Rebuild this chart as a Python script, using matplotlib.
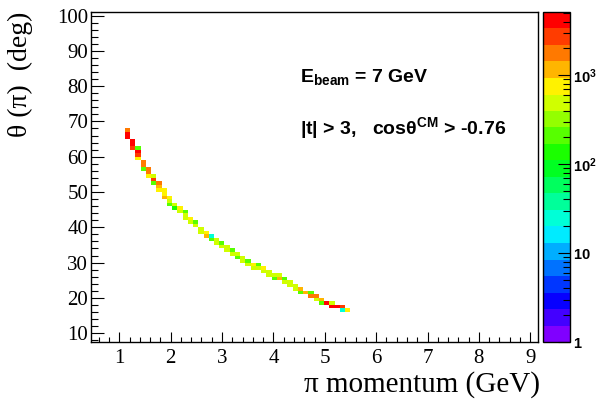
import numpy as np
import matplotlib
matplotlib.use("Agg")
import matplotlib.pyplot as plt
from matplotlib.colors import ListedColormap, LogNorm, hsv_to_rgb
from matplotlib.ticker import MultipleLocator, FixedLocator, NullFormatter, FixedFormatter

plt.rcParams['mathtext.fontset'] = 'custom'
plt.rcParams['mathtext.rm'] = 'Liberation Sans:bold'
plt.rcParams['mathtext.it'] = 'Liberation Sans:bold'
plt.rcParams['mathtext.bf'] = 'Liberation Sans:bold'

# ---------------- data ----------------
# momentum bin centre of each filled column (GeV)
p_col = [1.16, 1.26, 1.37, 1.47, 1.57, 1.67, 1.77, 1.88, 1.98, 2.08,
         2.18, 2.28, 2.39, 2.49, 2.59, 2.69, 2.79, 2.90, 3.00, 3.10,
         3.20, 3.30, 3.41, 3.51, 3.61, 3.71, 3.81, 3.92, 4.02, 4.12,
         4.22, 4.32, 4.43, 4.53, 4.63, 4.73, 4.83, 4.94, 5.04, 5.14,
         5.24, 5.34, 5.45]
# lowest filled theta bin (deg) in each column
theta_lo = [65, 62, 59, 56, 54, 52, 50, 48, 46, 45,
            44, 42, 41, 40, 38, 37, 36, 35, 34, 33,
            32, 31, 30, 29, 28, 28, 27, 26, 25, 25,
            24, 23, 22, 21, 21, 20, 19, 18, 18, 17,
            17, 16, 16]
# counts in consecutive theta bins, going upward from theta_lo
counts_col = [
    [4000, 4000, 1500], [3000, 4000, 4000], [800, 3000, 3500, 200],
    [200, 1800, 2000], [700, 1500, 1600], [200, 2500, 600],
    [700, 1300, 1500], [1100, 700, 800], [200, 600, 800], [150, 600],
    [600, 700], [500, 500, 180], [600, 700], [500, 200], [500, 600],
    [1200, 700], [200, 20], [400, 600], [600, 250], [400, 500],
    [600, 250], [250, 500], [500, 600], [500, 200], [400, 700],
    [500, 250], [600, 700], [400, 600], [200, 600], [1400, 500],
    [600, 200], [600, 500], [500, 600], [200, 1300], [1300],
    [1500, 200], [600, 1500], [200, 1300], [3500], [3500, 600],
    [4000], [20, 3000], [700],
]
x_ticks = [1, 2, 3, 4, 5, 6, 7, 8, 9]
y_ticks = [10, 20, 30, 40, 50, 60, 70, 80, 90, 100]
z_ticks = [1, 10, 100, 1000]
z_labels = [r'$\mathbf{1}$', r'$\mathbf{10}$', r'$\mathbf{10^{2}}$', r'$\mathbf{10^{3}}$']

# ---------------- histogram binning ----------------
p_edges = np.linspace(1.11, 1.11 + 0.102 * 43, 44)
theta_edges = np.arange(5, 102, 1.0)

cell_p, cell_t, cell_w = [], [], []
for p, t0, cs in zip(p_col, theta_lo, counts_col):
    for j, c in enumerate(cs):
        cell_p.append(p)
        cell_t.append(t0 + j + 0.5)
        cell_w.append(c)
H, xe, ye = np.histogram2d(cell_p, cell_t, bins=[p_edges, theta_edges], weights=cell_w)
H = np.ma.masked_where(H <= 0, H)

# ROOT-like 20-level rainbow palette
hues = np.linspace(0.75, 0.0, 20)
cols = hsv_to_rgb(np.stack([hues, np.ones(20), np.ones(20)], axis=1))
cmap = ListedColormap(cols)
zmax = 10 ** 3.71
norm = LogNorm(vmin=1, vmax=zmax)

# ---------------- figure ----------------
W, Hpx = 598, 407
fig = plt.figure(figsize=(W / 100, Hpx / 100), dpi=100)
ax = fig.add_axes([91 / W, 1 - 342 / Hpx, (538 - 91) / W, (342 - 12) / Hpx])
cax = fig.add_axes([543 / W, 1 - 342 / Hpx, (570 - 543) / W, (342 - 12) / Hpx])

mesh = ax.pcolormesh(xe, ye, H.T, cmap=cmap, norm=norm, shading='flat')
ax.set_xlim(0.45, 9.15)
ax.set_ylim(7.5, 101)

ax.xaxis.set_major_locator(FixedLocator(x_ticks))
ax.xaxis.set_minor_locator(MultipleLocator(0.2))
ax.yaxis.set_major_locator(FixedLocator(y_ticks))
ax.yaxis.set_minor_locator(MultipleLocator(2))
ax.tick_params(axis='both', which='both', direction='in', top=False, right=False,
               width=0.8, colors='black')
ax.tick_params(axis='x', which='major', length=7.5, pad=5)
ax.tick_params(axis='x', which='minor', length=3.8)
ax.tick_params(axis='y', which='major', length=9.5, pad=2)
ax.tick_params(axis='y', which='minor', length=4.7)
for lab in ax.get_xticklabels() + ax.get_yticklabels():
    lab.set_fontfamily('Liberation Serif')
    lab.set_fontsize(15)
for s in ax.spines.values():
    s.set_linewidth(1.0)

ax.text(0.4676, 0.788, r'$\mathrm{E_{beam}}$ = 7 GeV', transform=ax.transAxes,
        fontfamily='Liberation Sans', fontweight='bold', fontsize=14,
        ha='left', va='baseline')
ax.text(0.4676, 0.630, r'|t| > 3,   cosθ$^{\mathrm{CM}}$ > -0.76', transform=ax.transAxes,
        fontfamily='Liberation Sans', fontweight='bold', fontsize=14,
        ha='left', va='baseline')

fig.text(540 / W, 1 - 385 / Hpx, 'π momentum (GeV)', fontfamily='Liberation Serif',
         fontsize=21, ha='right', va='center')
fig.text(20 / W, 1 - 12 / Hpx, 'θ (π)  (deg)', fontfamily='Liberation Serif',
         fontsize=20, ha='center', va='top', rotation=90)

# colour bar
cb = fig.colorbar(mesh, cax=cax)
cb.outline.set_linewidth(1.0)
cax.yaxis.set_major_locator(FixedLocator(z_ticks))
cax.yaxis.set_major_formatter(FixedFormatter(z_labels))
minors = [m * 10 ** d for d in range(4) for m in range(2, 10) if m * 10 ** d < zmax]
cax.yaxis.set_minor_locator(FixedLocator(minors))
cax.yaxis.set_minor_formatter(NullFormatter())
cax.tick_params(axis='y', which='both', direction='in', right=True, left=False,
                labelright=True, labelleft=False, width=0.8)
cax.tick_params(axis='y', which='major', length=9, pad=2, labelsize=10.5)
cax.tick_params(axis='y', which='minor', length=5)

fig.savefig('out.png', dpi=100)
